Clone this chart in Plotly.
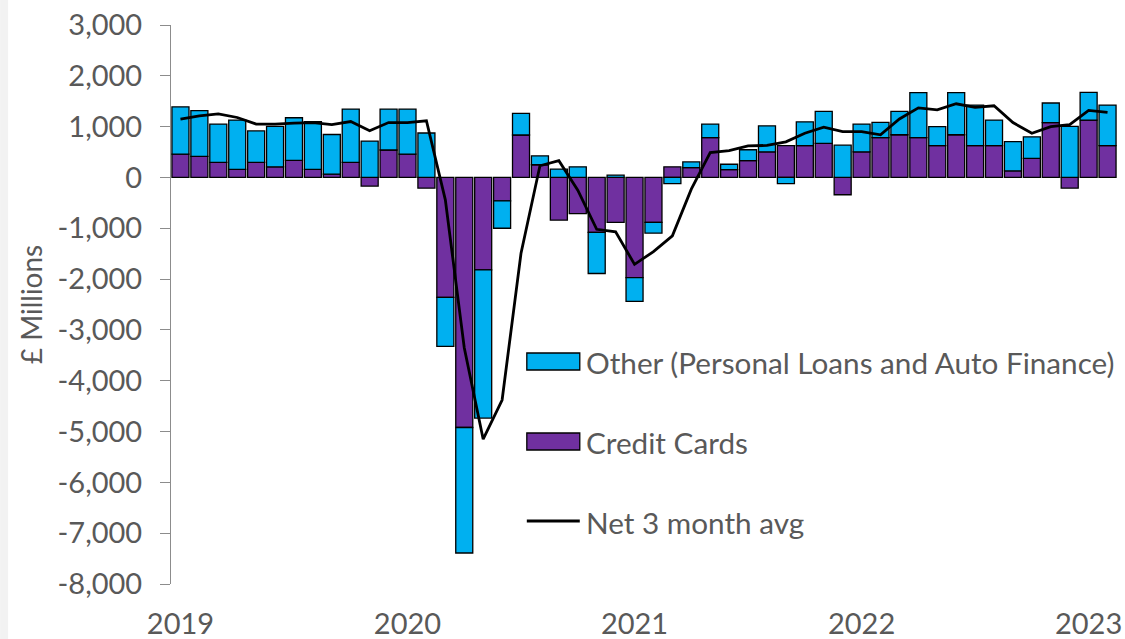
import plotly.graph_objects as go

# ---- data (£ millions) ----
month_names = ["Jan", "Feb", "Mar", "Apr", "May", "Jun",
               "Jul", "Aug", "Sep", "Oct", "Nov", "Dec"]
months = [f"{m} {y}" for y in range(2019, 2024) for m in month_names][:50]

years = ["2019", "2020", "2021", "2022", "2023"]

credit_cards = [460, 415, 295, 160, 295, 210, 335, 160, 65, 295, -170, 540,
                460, -210, -2360, -4920, -1820, -460, 835, 250, -840, -710, -1080, -885,
                -1970, -885, 210, 195, 785, 155, 330, 505, 625, 625, 670, -340,
                505, 785, 840, 785, 625, 840, 625, 625, 130, 375, 1080, -210,
                1130, 625]

other = [930, 900, 755, 970, 620, 795, 840, 940, 780, 1050, 715, 805,
         885, 875, -965, -2470, -2915, -540, 425, 175, 165, 210, -810, 45,
         -470, -210, -120, 110, 265, 105, 215, 510, -120, 470, 630, 635,
         545, 300, 460, 885, 375, 830, 800, 505, 575, 425, 385, 1005,
         545, 800]

net_3m_avg = [1150, 1210, 1250, 1180, 1050, 1050, 1070, 1080, 1040, 1100, 920, 1080,
              1080, 1115, -440, -3350, -5150, -4380, -1490, 230, 330, -250, -1020, -1070,
              -1710, -1460, -1150, -230, 490, 530, 620, 630, 700, 870, 990, 900,
              900, 840, 1150, 1370, 1330, 1450, 1380, 1410, 1080, 870, 1000, 1040,
              1320, 1280]

y_ticks = list(range(-8000, 3001, 1000))
y_ticktext = [f"{v:,}" for v in y_ticks]

NAME_OTHER = "Other (Personal Loans and Auto Finance)"
NAME_CC = "Credit Cards"
NAME_NET = "Net 3 month avg"

# ---- positions derived from the categories ----
x = list(range(len(months)))
year_pos = [months.index(f"Jan {y}") for y in years]
year_bounds = [p - 0.5 for p in year_pos[1:]]

Y_MIN, Y_MAX = -8000, 3000
GRAY = "#8c8c8c"
TXT = "#595959"
FONT = "Lato"
CYAN = "#00B0F0"
PURPLE = "#7030A0"

W, H = 1125, 639
ML, MT = 171, 25
MR = W - 1117.5
MB = H - 584
PW, PH = W - ML - MR, H - MT - MB


def px_x(px):
    """window pixel x -> paper x"""
    return (px - ML) / PW


def px_y(py):
    """window pixel y -> paper y"""
    return (H - MB - py) / PH


fig = go.Figure()
fig.add_bar(
    x=x, y=credit_cards, name=NAME_CC, width=0.9,
    marker=dict(color=PURPLE, line=dict(color="black", width=1.3)),
    hovertext=months, showlegend=False,
)
fig.add_bar(
    x=x, y=other, name=NAME_OTHER, width=0.9,
    marker=dict(color=CYAN, line=dict(color="black", width=1.3)),
    hovertext=months, showlegend=False,
)
fig.add_scatter(
    x=x, y=net_3m_avg, mode="lines", name=NAME_NET,
    line=dict(color="black", width=2.8), hovertext=months, showlegend=False,
)

# ---- legend drawn in the plot area (Excel-style wide keys) ----
shapes = [
    dict(type="rect", xref="paper", yref="paper",
         x0=px_x(0), x1=px_x(8), y0=px_y(H), y1=px_y(0),
         fillcolor="#F2F2F2", line=dict(width=0), layer="below"),
    dict(type="rect", xref="paper", yref="paper",
         x0=px_x(527), x1=px_x(580), y0=px_y(370), y1=px_y(353),
         fillcolor=CYAN, line=dict(color="black", width=1.3)),
    dict(type="rect", xref="paper", yref="paper",
         x0=px_x(527), x1=px_x(580), y0=px_y(450), y1=px_y(433),
         fillcolor=PURPLE, line=dict(color="black", width=1.3)),
    dict(type="line", xref="paper", yref="paper",
         x0=px_x(527), x1=px_x(580), y0=px_y(521), y1=px_y(521),
         line=dict(color="black", width=2.8)),
]
annotations = [
    dict(text=name, xref="paper", yref="paper", x=px_x(584), y=px_y(py),
         xanchor="left", yanchor="middle", showarrow=False,
         font=dict(family=FONT, size=29.7, color=TXT))
    for name, py in [(NAME_OTHER, 362), (NAME_CC, 442), (NAME_NET, 522)]
]

fig.update_layout(
    width=W, height=H,
    margin=dict(l=ML, r=MR, t=MT, b=MB),
    barmode="relative",
    showlegend=False,
    plot_bgcolor="white", paper_bgcolor="white",
    font=dict(family=FONT, size=28, color=TXT),
    xaxis=dict(
        range=[-0.5, len(months) - 0.5],
        tickvals=year_pos, ticktext=years,
        ticks="", showline=False, showgrid=False, zeroline=False,
        ticklabelstandoff=20, automargin=False, ticklabeloverflow="allow",
        tickfont=dict(family=FONT, size=29, color=TXT),
    ),
    xaxis2=dict(
        overlaying="x", anchor="free",
        position=(0 - Y_MIN) / (Y_MAX - Y_MIN),
        range=[-0.5, len(months) - 0.5],
        tickvals=year_bounds, showticklabels=False,
        ticks="outside", ticklen=10, tickcolor=GRAY, tickwidth=1,
        showline=True, linecolor=GRAY, linewidth=1,
        showgrid=False, zeroline=False, automargin=False,
    ),
    yaxis=dict(
        range=[Y_MIN, Y_MAX], tickvals=y_ticks, ticktext=y_ticktext,
        ticks="outside", ticklen=10, tickcolor=GRAY, tickwidth=1,
        showline=True, linecolor=GRAY, linewidth=1,
        showgrid=False, zeroline=False, automargin=False,
        ticklabelstandoff=12, ticklabeloverflow="allow",
        tickfont=dict(family=FONT, size=29, color=TXT),
        title=dict(text="£ Millions", standoff=6,
                   font=dict(family=FONT, size=28, color=TXT)),
    ),
    shapes=shapes,
    annotations=annotations,
)

# remove the browser's default 8px body margin so the figure fills the window
fig.write_html(
    "out.html",
    config={"displayModeBar": False},
    post_script="document.body.style.margin='0px';document.body.style.padding='0px';",
)
